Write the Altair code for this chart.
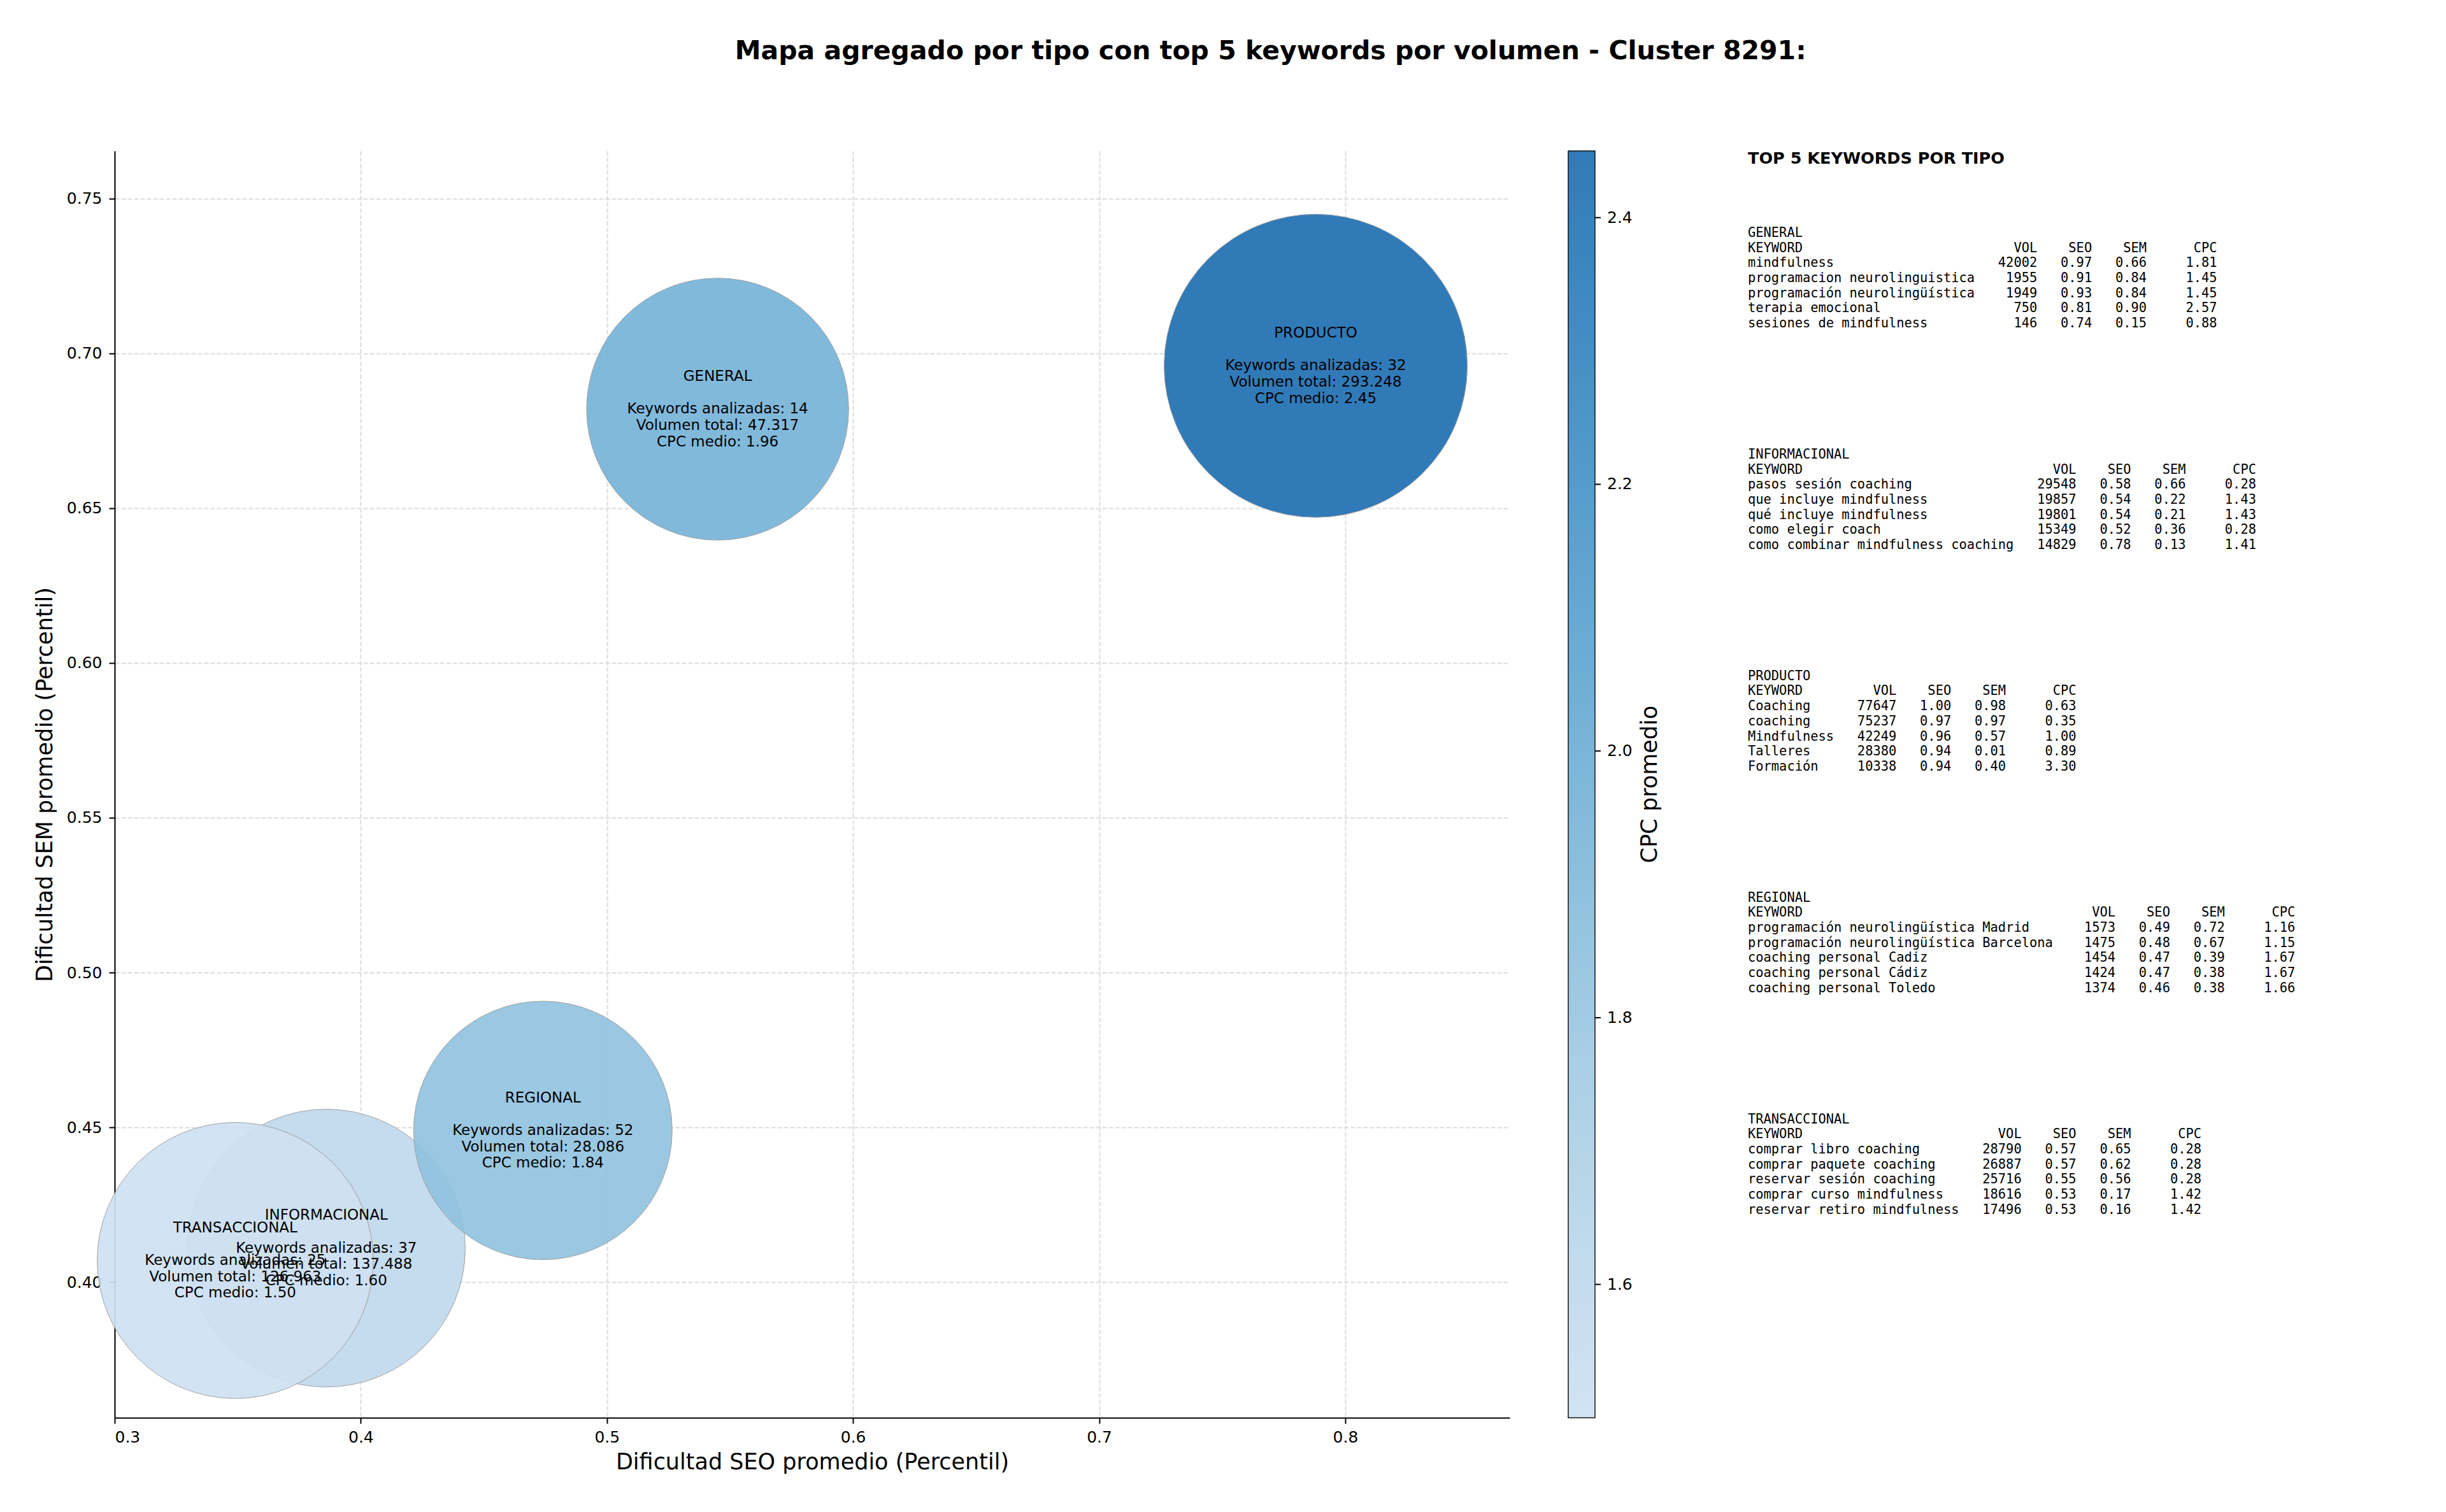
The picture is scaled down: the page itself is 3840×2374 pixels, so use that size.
import altair as alt
import pandas as pd

# ---- aggregated data per type ----
tipos = ["GENERAL", "INFORMACIONAL", "PRODUCTO", "REGIONAL", "TRANSACCIONAL"]
n_keywords = [14, 37, 32, 52, 25]
vol_total = [47317, 137488, 293248, 28086, 126963]
cpc_medio = [1.96, 1.60, 2.45, 1.84, 1.50]
seo_medio = [0.545, 0.386, 0.788, 0.474, 0.349]
sem_medio = [0.682, 0.411, 0.696, 0.449, 0.407]

# ---- top 5 keywords per type ----
gen_kw = ["mindfulness", "programacion neurolinguistica", "programación neurolingüística",
          "terapia emocional", "sesiones de mindfulness"]
gen_vol = [42002, 1955, 1949, 750, 146]
gen_seo = [0.97, 0.91, 0.93, 0.81, 0.74]
gen_sem = [0.66, 0.84, 0.84, 0.90, 0.15]
gen_cpc = [1.81, 1.45, 1.45, 2.57, 0.88]

inf_kw = ["pasos sesión coaching", "que incluye mindfulness", "qué incluye mindfulness",
          "como elegir coach", "como combinar mindfulness coaching"]
inf_vol = [29548, 19857, 19801, 15349, 14829]
inf_seo = [0.58, 0.54, 0.54, 0.52, 0.78]
inf_sem = [0.66, 0.22, 0.21, 0.36, 0.13]
inf_cpc = [0.28, 1.43, 1.43, 0.28, 1.41]

pro_kw = ["Coaching", "coaching", "Mindfulness", "Talleres", "Formación"]
pro_vol = [77647, 75237, 42249, 28380, 10338]
pro_seo = [1.00, 0.97, 0.96, 0.94, 0.94]
pro_sem = [0.98, 0.97, 0.57, 0.01, 0.40]
pro_cpc = [0.63, 0.35, 1.00, 0.89, 3.30]

reg_kw = ["programación neurolingüística Madrid", "programación neurolingüística Barcelona",
          "coaching personal Cadiz", "coaching personal Cádiz", "coaching personal Toledo"]
reg_vol = [1573, 1475, 1454, 1424, 1374]
reg_seo = [0.49, 0.48, 0.47, 0.47, 0.46]
reg_sem = [0.72, 0.67, 0.39, 0.38, 0.38]
reg_cpc = [1.16, 1.15, 1.67, 1.67, 1.66]

tra_kw = ["comprar libro coaching", "comprar paquete coaching", "reservar sesión coaching",
          "comprar curso mindfulness", "reservar retiro mindfulness"]
tra_vol = [28790, 26887, 25716, 18616, 17496]
tra_seo = [0.57, 0.57, 0.55, 0.53, 0.53]
tra_sem = [0.65, 0.62, 0.56, 0.17, 0.16]
tra_cpc = [0.28, 0.28, 0.28, 1.42, 1.42]

cbar_ticks = [1.6, 1.8, 2.0, 2.2, 2.4]

titulo = "Mapa agregado por tipo con top 5 keywords por volumen - Cluster 8291:"
panel_titulo = "TOP 5 KEYWORDS POR TIPO"
cbar_titulo = "CPC promedio"

# ---- layout constants ----
W, H = 2190, 1989
FONT = "DejaVu Sans"
MONO = "DejaVu Sans Mono"
CB_OFF, CB_W = 92, 42
LH = 25.7  # line height of the bubble labels


def miles(v):
    return f"{v:,}".replace(",", ".")


df = pd.DataFrame({
    "tipo": tipos,
    "seo": seo_medio,
    "sem": sem_medio,
    "vol": vol_total,
    "cpc": cpc_medio,
    "orden": list(range(len(tipos))),
    "l_kw": [f"Keywords analizadas: {n}" for n in n_keywords],
    "l_vol": [f"Volumen total: {miles(v)}" for v in vol_total],
    "l_cpc": [f"CPC medio: {c:.2f}" for c in cpc_medio],
})

xs = alt.Scale(domain=[0.3, 0.8668], nice=False, zero=False)
ys = alt.Scale(domain=[0.3562, 0.7654], nice=False, zero=False)
cs_domain = [1.5, 2.45]

bubbles = alt.Chart(df).mark_circle(
    stroke="#9a9a9a", strokeWidth=1, opacity=0.92
).encode(
    x=alt.X("seo:Q", scale=xs, title="Dificultad SEO promedio (Percentil)",
            axis=alt.Axis(values=[0.3, 0.4, 0.5, 0.6, 0.7, 0.8], format=".1f",
                          labelPadding=9, titlePadding=9)),
    y=alt.Y("sem:Q", scale=ys, title="Dificultad SEM promedio (Percentil)",
            axis=alt.Axis(values=[0.40, 0.45, 0.50, 0.55, 0.60, 0.65, 0.70, 0.75],
                          format=".2f", labelPadding=11, titlePadding=16)),
    size=alt.Size("vol:Q", scale=alt.Scale(domain=[28086, 293248],
                                           range=[164800, 226600], zero=False),
                  legend=None),
    color=alt.Color("cpc:Q",
                    scale=alt.Scale(domain=cs_domain,
                                    scheme=alt.SchemeParams(name="blues", extent=[0, 0.8])),
                    legend=alt.Legend(
                        title=None, orient="right", offset=CB_OFF,
                        direction="vertical", gradientLength=H, gradientThickness=CB_W,
                        gradientStrokeColor="black", gradientStrokeWidth=1.5,
                        values=cbar_ticks, format=".1f",
                        labelFont=FONT, labelFontSize=25, labelColor="black",
                        labelOffset=19, labelOverlap=False, padding=0)),
    order=alt.Order("orden:Q"),
)


def label_layer(field, line):
    # line index within a 5-line block centred on the bubble (line 1 is blank)
    return alt.Chart(df).mark_text(
        font=FONT, fontSize=23, align="center", baseline="middle", color="black",
        dy=(line - 2) * LH
    ).encode(
        x=alt.X("seo:Q", scale=xs),
        y=alt.Y("sem:Q", scale=ys),
        text=f"{field}:N",
        order=alt.Order("orden:Q"),
    )


labels = [label_layer("tipo", 0), label_layer("l_kw", 2),
          label_layer("l_vol", 3), label_layer("l_cpc", 4)]

# colorbar title (rotated, reading upwards) and colorbar tick marks
cb_title = alt.Chart(pd.DataFrame({"t": [cbar_titulo]})).mark_text(
    font=FONT, fontSize=35, angle=270, align="center", baseline="middle", color="black"
).encode(x=alt.value(W + 220), y=alt.value(H / 2), text="t:N")

cb_ticks = alt.Chart(pd.DataFrame({"v": cbar_ticks})).mark_rule(
    color="black", strokeWidth=2
).encode(
    y=alt.Y("v:Q", scale=alt.Scale(domain=cs_domain, nice=False, zero=False), axis=None),
    x=alt.value(W + CB_OFF + CB_W), x2=alt.value(W + CB_OFF + CB_W + 9),
)

main = alt.layer(
    alt.layer(bubbles, *labels, cb_title), cb_ticks
).resolve_scale(y="independent").properties(width=W, height=H)

# ---- right-hand text panel ----
LINE = 23.7          # pixel height of one text line
GAP = 14.68          # lines between block starts
FIRST = 5.44         # first block start, in lines
blocks = [
    ("GENERAL", gen_kw, gen_vol, gen_seo, gen_sem, gen_cpc),
    ("INFORMACIONAL", inf_kw, inf_vol, inf_seo, inf_sem, inf_cpc),
    ("PRODUCTO", pro_kw, pro_vol, pro_seo, pro_sem, pro_cpc),
    ("REGIONAL", reg_kw, reg_vol, reg_seo, reg_sem, reg_cpc),
    ("TRANSACCIONAL", tra_kw, tra_vol, tra_seo, tra_sem, tra_cpc),
]
rows = []
for k, (name, kws, vols, seos, sems, cpcs) in enumerate(blocks):
    L = max(len(s) for s in kws)
    lines = [name, "KEYWORD".ljust(L) + "VOL".rjust(8) + "SEO".rjust(7)
             + "SEM".rjust(7) + "CPC".rjust(9)]
    for kw, v, s, m, c in zip(kws, vols, seos, sems, cpcs):
        lines.append(f"{kw:<{L}}{v:>8}{s:>7.2f}{m:>7.2f}{c:>9.2f}")
    for j, ln in enumerate(lines):
        rows.append({"row": FIRST + GAP * k + j, "txt": ln.replace(" ", "\u00a0")})
tab = pd.DataFrame(rows)
head = pd.DataFrame({"row": [0.52], "txt": [panel_titulo]})

rs = alt.Scale(domain=[0, H / LINE], reverse=True, nice=False, zero=False)
panel_body = alt.Chart(tab).mark_text(
    font=MONO, fontSize=20.4, align="left", baseline="middle", color="black"
).encode(x=alt.value(0), y=alt.Y("row:Q", scale=rs, axis=None), text="txt:N")
panel_head = alt.Chart(head).mark_text(
    font=FONT, fontSize=25.5, fontWeight="bold", align="left", baseline="middle", color="black"
).encode(x=alt.value(0), y=alt.Y("row:Q", scale=rs, axis=None), text="txt:N")
panel = alt.layer(panel_body, panel_head).properties(width=900, height=H)

chart = alt.hconcat(main, panel, spacing=136).resolve_legend(
    color="independent"
).properties(
    title=alt.TitleParams(titulo, font=FONT, fontSize=41, fontWeight="bold",
                          color="black", anchor="middle", offset=135, dx=146),
    padding={"left": 45, "top": 52, "right": 10, "bottom": 10},
).configure_view(stroke=None).configure_axis(
    labelFont=FONT, labelFontSize=25, labelColor="black",
    titleFont=FONT, titleFontSize=35, titleFontWeight="normal", titleColor="black",
    tickColor="black", tickSize=9, tickWidth=2,
    domainColor="black", domainWidth=2,
    gridColor="#dcdcdc", gridDash=[7, 3], gridWidth=2,
)

chart.save("out.html", embed_options={"renderer": "svg", "actions": False})
